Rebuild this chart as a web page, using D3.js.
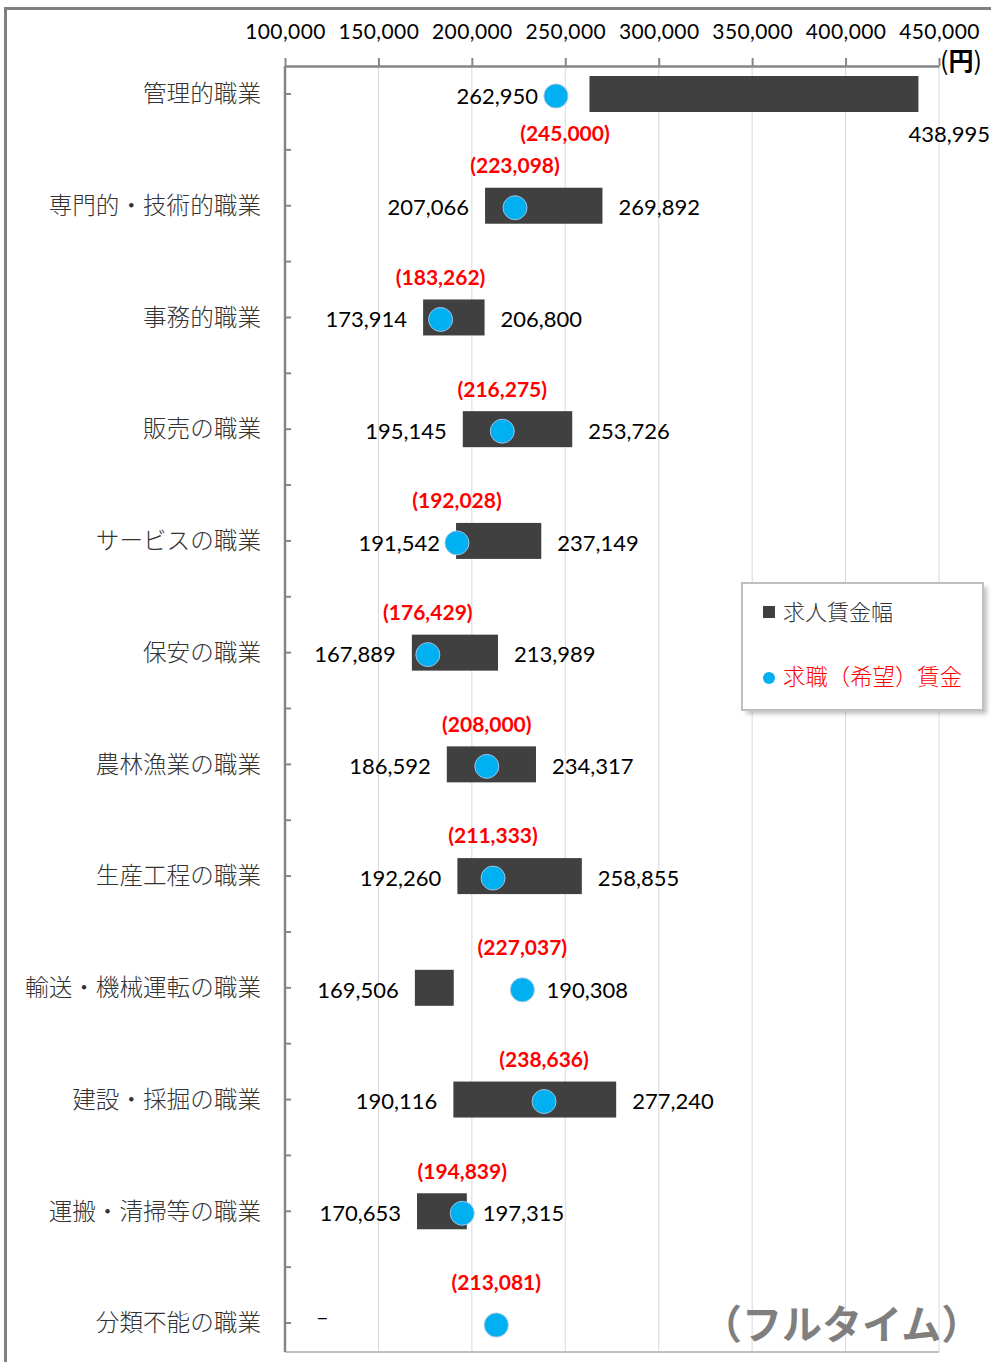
<!DOCTYPE html>
<html>
<head>
<meta charset="utf-8">
<script src="https://cdn.jsdelivr.net/npm/d3@7"></script>
<style>
  body { margin: 0; background: #fff; }
  svg { display: block; }
</style>
</head>
<body>
<div id="chart"></div>
<script>
const categories = ['管理的職業', '専門的・技術的職業', '事務的職業', '販売の職業', 'サービスの職業', '保安の職業',
  '農林漁業の職業', '生産工程の職業', '輸送・機械運転の職業', '建設・採掘の職業', '運搬・清掃等の職業', '分類不能の職業'];
// 求人賃金幅 (min / max), null = no data
const offerMin = [262950, 207066, 173914, 195145, 191542, 167889, 186592, 192260, 169506, 190116, 170653, null];
const offerMax = [438995, 269892, 206800, 253726, 237149, 213989, 234317, 258855, 190308, 277240, 197315, null];
// 求職（希望）賃金
const seekerWage = [245000, 223098, 183262, 216275, 192028, 176429, 208000, 211333, 227037, 238636, 194839, 213081];
const xTicks = [100000, 150000, 200000, 250000, 300000, 350000, 400000, 450000];

const W = 991, H = 1362;
const barCol = '#404040', dotCol = '#00B0F0', red = '#FF0000';
const jp = '"Noto Sans CJK JP", "Noto Sans", sans-serif';
const num = 'Lato, "Open Sans", sans-serif';

const svg = d3.select('#chart').append('svg').attr('width', W).attr('height', H);

// outer frame
svg.append('rect').attr('x', 5.5).attr('y', 8.5).attr('width', 1100).attr('height', 1500)
  .style('fill', 'none').style('stroke', '#808080').style('stroke-width', 3);

const plotTop = 66, plotBottom = 1352;
const x = d3.scaleLinear().domain([100000, 450000]).range([285, 939]);
const y = d3.scalePoint().domain(categories).range([94, 1323]);

// gridlines
svg.append('g').selectAll('line').data(xTicks).enter().append('line')
  .attr('x1', d => x(d)).attr('x2', d => x(d)).attr('y1', plotTop).attr('y2', plotBottom)
  .style('stroke', '#d9d9d9').style('stroke-width', 1);
svg.append('line').attr('x1', x(100000)).attr('x2', x(450000)).attr('y1', plotBottom).attr('y2', plotBottom)
  .style('stroke', '#bfbfbf').style('stroke-width', 2);

// top axis
const xAxis = d3.axisTop(x).tickValues(xTicks).tickFormat(d3.format(',')).tickSize(8).tickSizeOuter(0).tickPadding(19);
const gx = svg.append('g').attr('transform', `translate(0,${plotTop})`).call(xAxis);
gx.select('.domain').style('stroke', '#868686').style('stroke-width', 2.5);
gx.selectAll('.tick line').style('stroke', '#868686').style('stroke-width', 2);
gx.selectAll('.tick text').style('font-family', num).style('font-size', '21px').style('letter-spacing', '0.4px')
  .style('fill', '#000');

const yen = svg.append('text').attr('x', 940).attr('y', 61).attr('dy', '0.35em')
  .style('font-family', jp).style('font-size', '25px').style('fill', '#000');
yen.append('tspan').text('(');
yen.append('tspan').style('font-weight', 'bold').text('円');
yen.append('tspan').text(')');

// left axis
svg.append('line').attr('x1', 285).attr('x2', 285).attr('y1', plotTop).attr('y2', plotBottom)
  .style('stroke', '#868686').style('stroke-width', 2.5);
const step = y.step();
const tickYs = [];
categories.forEach((c, i) => { tickYs.push(y(c)); if (i < categories.length - 1) tickYs.push(y(c) + step / 2); });
svg.append('g').selectAll('line').data(tickYs).enter().append('line')
  .attr('x1', 285).attr('x2', 291).attr('y1', d => d).attr('y2', d => d)
  .style('stroke', '#868686').style('stroke-width', 2);

svg.append('g').selectAll('text').data(categories).enter().append('text')
  .attr('x', 261).attr('y', d => y(d)).attr('dy', '0.35em').attr('text-anchor', 'end')
  .style('font-family', jp).style('font-weight', 300).style('font-size', '23.6px').style('fill', '#333')
  .text(d => d);

// rows
const rows = categories.map((c, i) => ({ cat: c, i, min: offerMin[i], max: offerMax[i], wage: seekerWage[i] }));
const fmt = d3.format(',');

svg.append('g').selectAll('rect').data(rows.filter(d => d.min != null)).enter().append('rect')
  .attr('x', d => x(d.min)).attr('width', d => x(d.max) - x(d.min))
  .attr('y', d => y(d.cat) - 18).attr('height', 36)
  .style('fill', barCol);

svg.append('g').selectAll('circle').data(rows).enter().append('circle')
  .attr('cx', d => x(d.wage)).attr('cy', d => y(d.cat) + 2).attr('r', 12)
  .style('fill', dotCol).style('stroke', '#9dc3e6').style('stroke-width', 1);

const lab = svg.append('g').style('font-family', num).style('font-size', '22px').style('fill', '#000');
rows.forEach(d => {
  const cy = y(d.cat) + 2;
  const dx = x(d.wage);
  if (d.min == null) {
    lab.append('text').attr('x', x(120000)).attr('y', cy - 8).attr('dy', '0.35em').attr('text-anchor', 'middle').text('–');
  } else {
    const x0 = x(d.min), x1 = x(d.max);
    const lx = dx < x0 - 12 ? dx - 18 : x0 - 16;
    lab.append('text').attr('x', lx).attr('y', cy).attr('dy', '0.35em').attr('text-anchor', 'end').text(fmt(d.min));
    if (x1 + 100 > W) {
      lab.append('text').attr('x', x1 - 10).attr('y', y(d.cat) + 40).attr('dy', '0.35em').text(fmt(d.max));
    } else {
      const rx = dx > x1 ? dx + 24 : x1 + 16;
      lab.append('text').attr('x', rx).attr('y', cy).attr('dy', '0.35em').text(fmt(d.max));
    }
  }
  // red seeker wage label: above the dot, below for the first row
  const ry = d.i === 0 ? y(d.cat) + 40 : y(d.cat) - 40;
  svg.append('text').attr('x', d.i === 0 ? dx + 9 : dx).attr('y', ry).attr('dy', '0.35em').attr('text-anchor', 'middle')
    .style('font-family', num).style('font-weight', 'bold').style('font-size', '21px').style('fill', red)
    .text(`(${fmt(d.wage)})`);
});

// watermark
svg.append('text').attr('x', 702).attr('y', 1325).attr('dy', '0.35em')
  .style('font-family', jp).style('font-weight', 'bold').style('font-size', '40px').style('fill', '#7f7f7f')
  .text('（フルタイム）');

// legend
const defs = svg.append('defs');
const f = defs.append('filter').attr('id', 'blur').attr('x', '-10%').attr('y', '-10%').attr('width', '130%').attr('height', '130%');
f.append('feGaussianBlur').attr('stdDeviation', 2);
const lg = svg.append('g').attr('transform', 'translate(742,583)');
lg.append('rect').attr('x', 4).attr('y', 4).attr('width', 241).attr('height', 127)
  .style('fill', '#999').style('opacity', 0.6).attr('filter', 'url(#blur)');
lg.append('rect').attr('width', 241).attr('height', 127)
  .style('fill', '#fff').style('stroke', '#bfbfbf').style('stroke-width', 2);
lg.append('rect').attr('x', 21).attr('y', 23).attr('width', 12).attr('height', 12).style('fill', barCol);
lg.append('text').attr('x', 41).attr('y', 29).attr('dy', '0.35em')
  .style('font-family', jp).style('font-weight', 300).style('font-size', '22px').style('fill', '#333').text('求人賃金幅');
lg.append('circle').attr('cx', 27).attr('cy', 95).attr('r', 6).style('fill', dotCol);
lg.append('text').attr('x', 41).attr('y', 94).attr('dy', '0.35em')
  .style('font-family', jp).style('font-weight', 300).style('font-size', '22.4px').style('fill', red).text('求職（希望）賃金');
</script>
</body>
</html>
